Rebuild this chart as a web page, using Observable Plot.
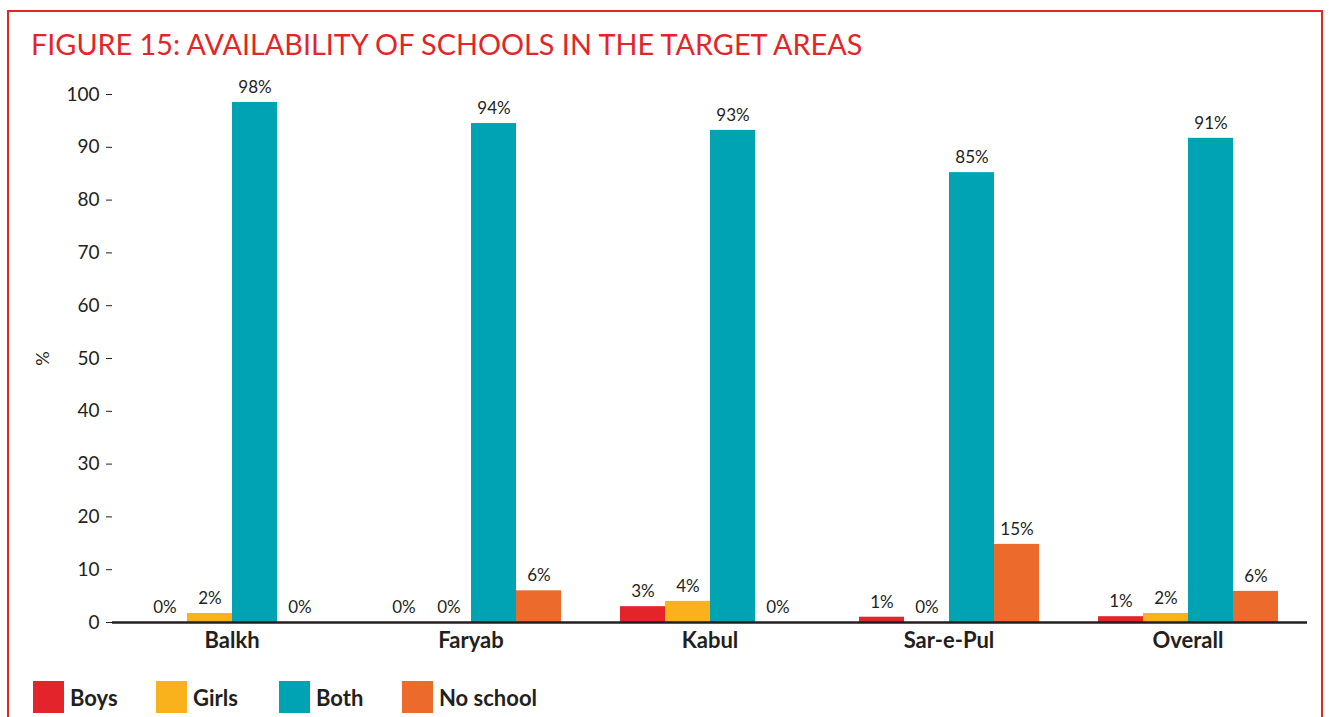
<!DOCTYPE html>
<html>
<head>
<meta charset="utf-8">
<script src="https://cdn.jsdelivr.net/npm/d3@7"></script>
<script src="https://cdn.jsdelivr.net/npm/@observablehq/plot@0.6"></script>
<style>
  body { margin: 0; background: #fff; font-family: Lato, "Open Sans", sans-serif; color: #231f20; }
  #frame { position: absolute; left: 7px; top: 10px; width: 1316px; height: 720px; border: 2px solid #e42528; border-bottom: none; box-sizing: border-box; }
  #title { position: absolute; left: 31px; top: 30px; font-size: 28.8px; line-height: 29px; color: #e42528; font-weight: 400; white-space: nowrap; }
  #chart { position: absolute; left: 0; top: 0; }
  #legend { position: absolute; left: 33px; top: 681px; display: flex; align-items: center; height: 32px; }
  .item { display: flex; align-items: center; width: 123px; white-space: nowrap; }
  .sw { width: 31px; height: 32px; margin-right: 6px; flex: none; }
  .lab { font-weight: 700; font-size: 22px; color: #231f20; }
  #chart svg text { fill: #231f20; }
  #chart g[aria-label="fx-axis tick label"] text { font-weight: 700; font-size: 22px; }
  #chart g[aria-label="y-axis tick label"] text { font-size: 19px; }
  #chart g[aria-label="y-axis label"] text { font-size: 18px; }
</style>
</head>
<body>
<div id="frame"></div>
<div id="title">FIGURE 15: AVAILABILITY OF SCHOOLS IN THE TARGET AREAS</div>
<div id="chart"></div>
<div id="legend"></div>
<script>
const regions = ["Balkh", "Faryab", "Kabul", "Sar-e-Pul", "Overall"];
const categories = ["Boys", "Girls", "Both", "No school"];
const colors = ["#e3242b", "#f9b21b", "#00a3b4", "#ec6a2c"];
const boys     = [0, 0, 3, 1, 1.1];
const girls    = [1.7, 0, 4, 0, 1.7];
const both     = [98.5, 94.5, 93.2, 85.2, 91.7];
const noSchool = [0, 6, 0, 14.8, 5.9];
const boysLabels     = ["0%", "0%", "3%", "1%", "1%"];
const girlsLabels    = ["2%", "0%", "4%", "0%", "2%"];
const bothLabels     = ["98%", "94%", "93%", "85%", "91%"];
const noSchoolLabels = ["0%", "6%", "0%", "15%", "6%"];
const yTicks = [0, 10, 20, 30, 40, 50, 60, 70, 80, 90, 100];

const series = [boys, girls, both, noSchool];
const labels = [boysLabels, girlsLabels, bothLabels, noSchoolLabels];
const data = [];
regions.forEach((r, i) => {
  categories.forEach((c, j) => {
    data.push({region: r, category: c, value: series[j][i], label: labels[j][i]});
  });
});

const chart = Plot.plot({
  width: 1330,
  height: 665,
  marginTop: 94,
  marginBottom: 43,
  marginLeft: 110,
  marginRight: 22,
  style: {fontFamily: "Lato, 'Open Sans', sans-serif", color: "#231f20", background: "transparent"},
  fx: {domain: regions, padding: 0, label: null, tickSize: 0, tickPadding: 10},
  x: {domain: categories, paddingInner: 0, paddingOuter: 0.62, axis: null},
  y: {domain: [0, 100], ticks: yTicks, tickSize: 6, tickPadding: 7, label: "%", labelArrow: "none", labelAnchor: "center", labelOffset: 76},
  color: {domain: categories, range: colors},
  marks: [
    Plot.barY(data, {fx: "region", x: "category", y: "value", fill: "category"}),
    Plot.text(data, {fx: "region", x: "category", y: "value", text: "label", dy: -15, fontSize: 17, fill: "#231f20"}),
    Plot.ruleY([0], {stroke: "#231f20", strokeWidth: 2.5})
  ]
});
document.getElementById("chart").appendChild(chart);

const legend = document.getElementById("legend");
categories.forEach((c, i) => {
  const item = document.createElement("div");
  item.className = "item";
  item.innerHTML = `<div class="sw" style="background:${colors[i]}"></div><span class="lab">${c}</span>`;
  legend.appendChild(item);
});
</script>
</body>
</html>
